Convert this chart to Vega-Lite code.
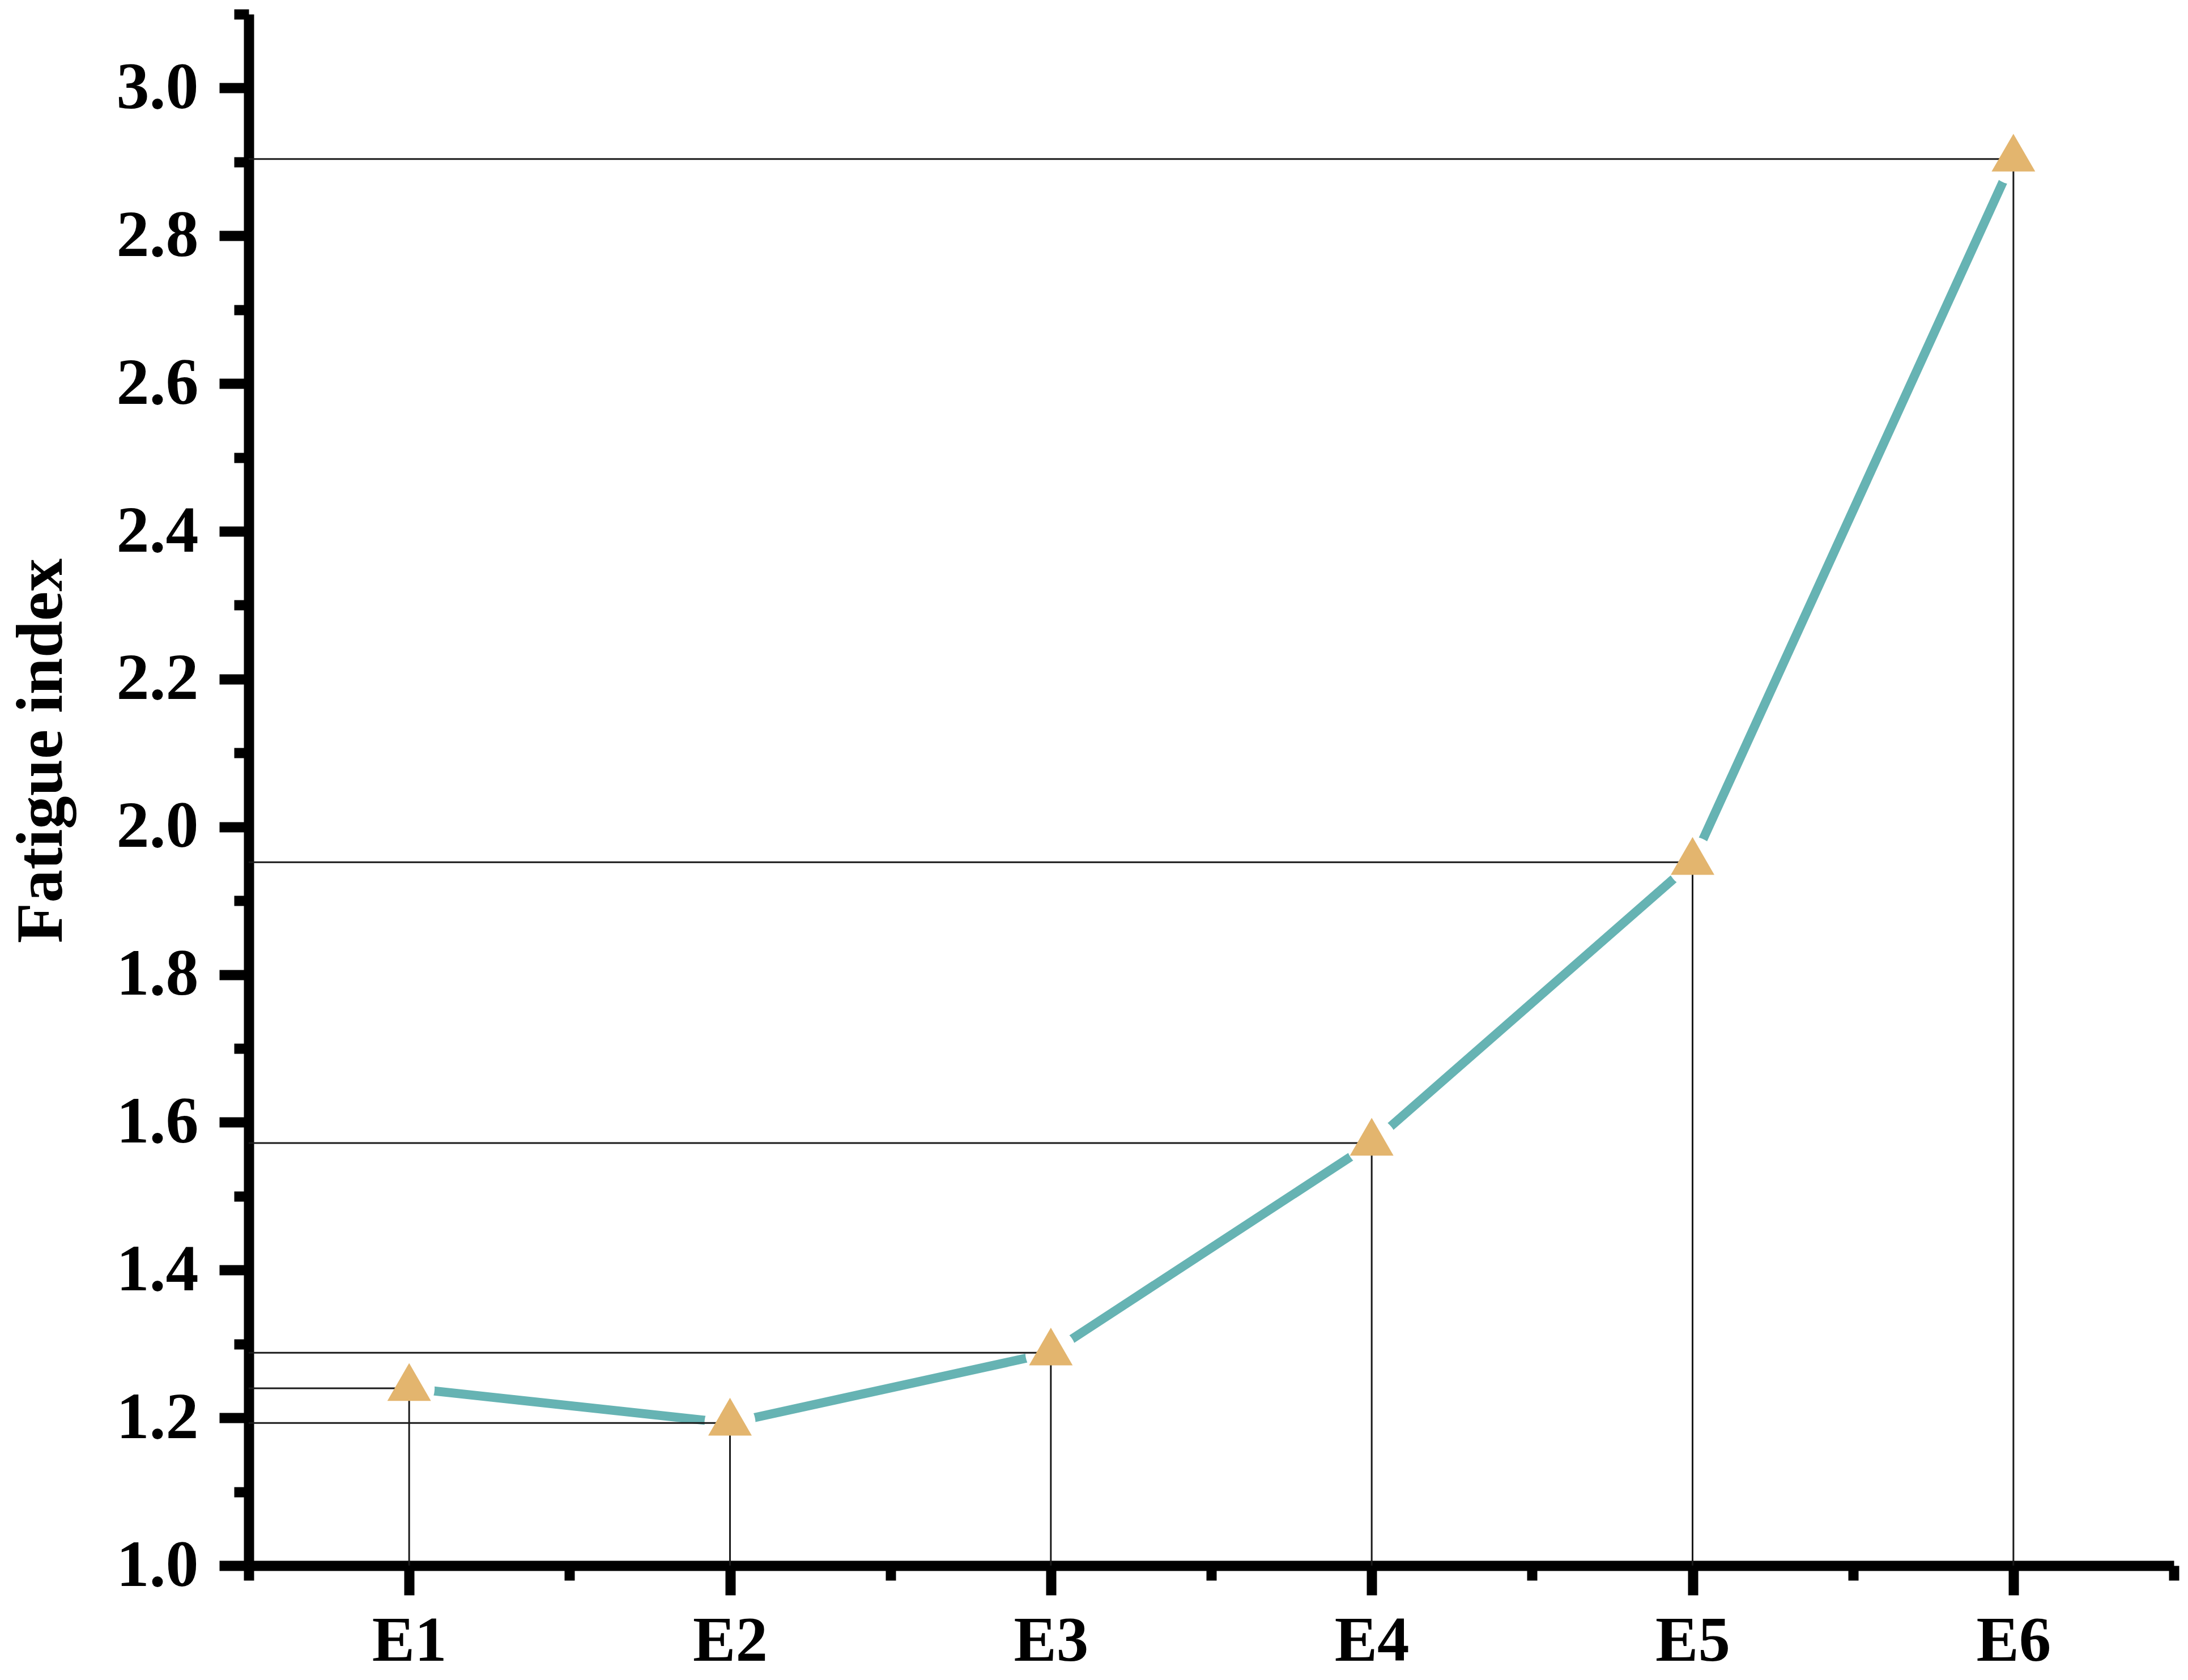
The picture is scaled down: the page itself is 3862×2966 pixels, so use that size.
{
  "$schema": "https://vega.github.io/schema/vega-lite/v6.json",
  "autosize": {"type": "none"},
  "padding": {"left": 439, "top": 25, "right": 25, "bottom": 202},
  "width": 3398,
  "height": 2739,
  "background": "white",
  "config": {
    "view": {"stroke": null},
    "axis": {
      "domainColor": "black",
      "domainWidth": 18,
      "tickColor": "black",
      "tickWidth": 18,
      "grid": false,
      "labelFont": "Liberation Serif",
      "labelFontWeight": "bold",
      "labelFontSize": 116,
      "labelColor": "black",
      "labelOverlap": false,
      "labelFlush": false,
      "titleFont": "Liberation Serif",
      "titleFontWeight": "bold",
      "titleColor": "black"
    }
  },
  "data": {
    "values": [
      {"idx": 1, "group": "E1", "value": 1.240},
      {"idx": 2, "group": "E2", "value": 1.193},
      {"idx": 3, "group": "E3", "value": 1.288},
      {"idx": 4, "group": "E4", "value": 1.572},
      {"idx": 5, "group": "E5", "value": 1.952},
      {"idx": 6, "group": "E6", "value": 2.904}
    ]
  },
  "layer": [
    {
      "mark": {"type": "line", "color": "#66B3B3", "strokeWidth": 16, "strokeCap": "round"},
      "encoding": {
        "x": {
          "field": "idx", "type": "quantitative",
          "scale": {"domain": [0.5, 6.5], "nice": false, "zero": false},
          "axis": {
            "title": null,
            "values": [0.5, 1, 1.5, 2, 2.5, 3, 3.5, 4, 4.5, 5, 5.5, 6, 6.5],
            "labelExpr": "datum.value % 1 === 0 ? 'E' + datum.value : ''",
            "tickSize": {"condition": {"test": "datum.value % 1 === 0", "value": 52}, "value": 26},
            "labelFontSize": 113,
            "labelPadding": 26
          }
        },
        "y": {
          "field": "value", "type": "quantitative",
          "scale": {"domain": [1, 3.1], "nice": false, "zero": false},
          "axis": {
            "title": "Fatigue index",
            "titleFontSize": 117,
            "titleX": -366,
            "titleY": 1300,
            "titleBaseline": "middle",
            "values": [1.0, 1.1, 1.2, 1.3, 1.4, 1.5, 1.6, 1.7, 1.8, 1.9, 2.0, 2.1, 2.2, 2.3, 2.4, 2.5, 2.6, 2.7, 2.8, 2.9, 3.0, 3.1],
            "labelExpr": "round(datum.value * 10) % 2 === 0 ? format(datum.value, '.1f') : ''",
            "tickSize": {"condition": {"test": "round(datum.value * 10) % 2 === 0", "value": 52}, "value": 26},
            "labelPadding": 37
          }
        }
      }
    },
    {
      "mark": {"type": "point", "shape": "circle", "filled": true, "color": "white", "size": 8100, "opacity": 1},
      "encoding": {
        "x": {"field": "idx", "type": "quantitative"},
        "y": {"field": "value", "type": "quantitative"}
      }
    },
    {
      "mark": {"type": "rule", "color": "#1a1a1a", "strokeWidth": 3},
      "encoding": {
        "x": {"field": "idx", "type": "quantitative"},
        "x2": {"datum": 0.5},
        "y": {"field": "value", "type": "quantitative"}
      }
    },
    {
      "mark": {"type": "rule", "color": "#1a1a1a", "strokeWidth": 3},
      "encoding": {
        "x": {"field": "idx", "type": "quantitative"},
        "y": {"field": "value", "type": "quantitative"},
        "y2": {"datum": 1}
      }
    },
    {
      "mark": {"type": "point", "shape": "M0,-1.155L1,0.577L-1,0.577Z", "filled": true, "color": "#E3B56E", "size": 5929, "opacity": 1},
      "encoding": {
        "x": {"field": "idx", "type": "quantitative"},
        "y": {"field": "value", "type": "quantitative"}
      }
    }
  ]
}
